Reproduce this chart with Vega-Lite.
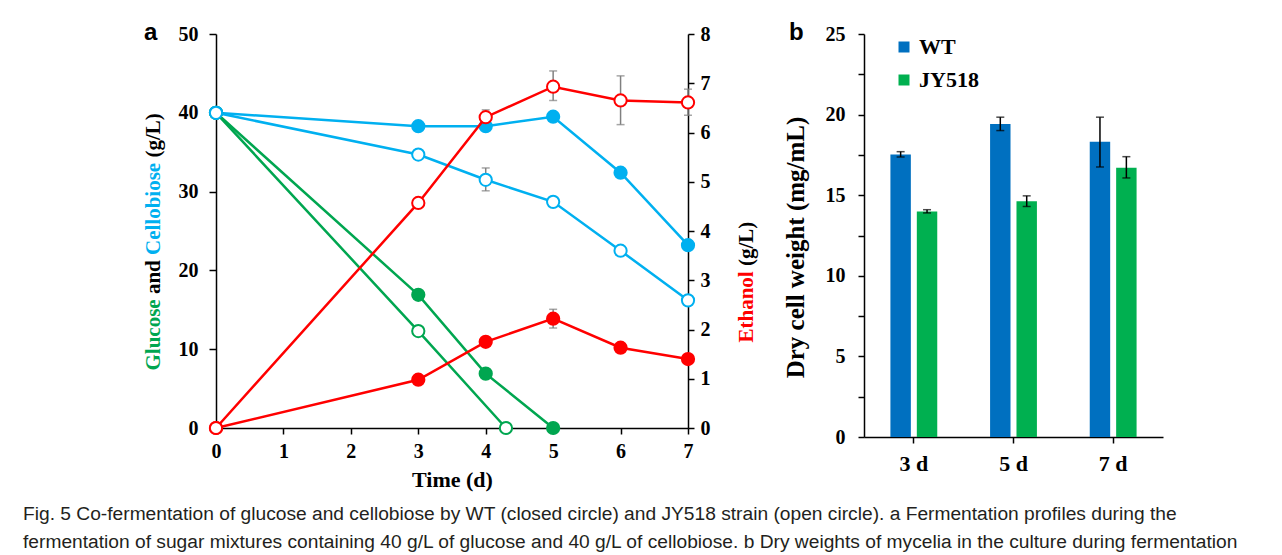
{
  "$schema": "https://vega.github.io/schema/vega-lite/v6.json",
  "padding": {"left": 22, "top": 21, "right": 5, "bottom": 5},
  "background": "white",
  "spacing": 27,
  "resolve": {"scale": {"color": "independent"}, "legend": {"color": "independent"}},
  "title": {
    "text": [
      "Fig. 5  Co-fermentation of glucose and cellobiose by WT (closed circle) and JY518 strain (open circle). a Fermentation profiles during the",
      "fermentation of sugar mixtures containing 40 g/L of glucose and 40 g/L of cellobiose. b Dry weights of mycelia in the culture during fermentation"
    ],
    "orient": "bottom", "anchor": "start", "frame": "bounds", "dx": -119, "offset": 15,
    "font": "Liberation Sans", "fontSize": 19.2, "fontWeight": "normal", "lineHeight": 28, "color": "#231f20"
  },
  "config": {
    "view": {"stroke": null},
    "font": "Liberation Serif",
    "axis": {
      "labelFont": "Liberation Serif", "labelFontWeight": "bold", "labelFontSize": 20, "labelColor": "black", "labelFlush": false, "labelOverlap": false,
      "titleFont": "Liberation Serif", "titleFontWeight": "bold", "titleFontSize": 21, "titleColor": "black",
      "domainColor": "black", "tickColor": "black", "domainWidth": 1.5, "tickWidth": 1.5, "grid": false, "tickSize": 6
    }
  },
  "hconcat": [
    {
      "width": 472, "height": 394,
      "title": {"text": "a", "anchor": "start", "frame": "bounds", "offset": -40, "dx": 2, "font": "Liberation Sans", "fontSize": 24, "fontWeight": "bold", "baseline": "alphabetic", "color": "black"},
      "data": {"values": [
        {"sub": "Glucose", "series": "Glucose WT", "t": 0, "v": 40},
        {"sub": "Glucose", "series": "Glucose WT", "t": 3, "v": 16.9},
        {"sub": "Glucose", "series": "Glucose WT", "t": 4, "v": 6.9},
        {"sub": "Glucose", "series": "Glucose WT", "t": 5, "v": 0},
        {"sub": "Glucose", "series": "Glucose JY518", "t": 0, "v": 40},
        {"sub": "Glucose", "series": "Glucose JY518", "t": 3, "v": 12.3},
        {"sub": "Glucose", "series": "Glucose JY518", "t": 4.3, "v": 0},
        {"sub": "Cellobiose", "series": "Cellobiose WT", "t": 0, "v": 40},
        {"sub": "Cellobiose", "series": "Cellobiose WT", "t": 3, "v": 38.3},
        {"sub": "Cellobiose", "series": "Cellobiose WT", "t": 4, "v": 38.3},
        {"sub": "Cellobiose", "series": "Cellobiose WT", "t": 5, "v": 39.5},
        {"sub": "Cellobiose", "series": "Cellobiose WT", "t": 6, "v": 32.4},
        {"sub": "Cellobiose", "series": "Cellobiose WT", "t": 7, "v": 23.2},
        {"sub": "Cellobiose", "series": "Cellobiose JY518", "t": 0, "v": 40},
        {"sub": "Cellobiose", "series": "Cellobiose JY518", "t": 3, "v": 34.7},
        {"sub": "Cellobiose", "series": "Cellobiose JY518", "t": 4, "v": 31.5, "lo": 30.1, "hi": 33.0},
        {"sub": "Cellobiose", "series": "Cellobiose JY518", "t": 5, "v": 28.7},
        {"sub": "Cellobiose", "series": "Cellobiose JY518", "t": 6, "v": 22.5},
        {"sub": "Cellobiose", "series": "Cellobiose JY518", "t": 7, "v": 16.2},
        {"sub": "Ethanol", "series": "Ethanol WT", "t": 0, "v": 0},
        {"sub": "Ethanol", "series": "Ethanol WT", "t": 3, "v": 0.98},
        {"sub": "Ethanol", "series": "Ethanol WT", "t": 4, "v": 1.75},
        {"sub": "Ethanol", "series": "Ethanol WT", "t": 5, "v": 2.22, "lo": 2.03, "hi": 2.41},
        {"sub": "Ethanol", "series": "Ethanol WT", "t": 6, "v": 1.63},
        {"sub": "Ethanol", "series": "Ethanol WT", "t": 7, "v": 1.4},
        {"sub": "Ethanol", "series": "Ethanol JY518", "t": 0, "v": 0},
        {"sub": "Ethanol", "series": "Ethanol JY518", "t": 3, "v": 4.57},
        {"sub": "Ethanol", "series": "Ethanol JY518", "t": 4, "v": 6.31, "lo": 6.24, "hi": 6.46},
        {"sub": "Ethanol", "series": "Ethanol JY518", "t": 5, "v": 6.93, "lo": 6.65, "hi": 7.25},
        {"sub": "Ethanol", "series": "Ethanol JY518", "t": 6, "v": 6.65, "lo": 6.16, "hi": 7.15},
        {"sub": "Ethanol", "series": "Ethanol JY518", "t": 7, "v": 6.61, "lo": 6.35, "hi": 6.88}
      ]},
      "layer": [
        {
          "transform": [{"filter": "datum.sub != 'Ethanol'"}],
          "layer": [
            {
              "transform": [{"filter": "isValid(datum.lo)"}],
              "mark": {"type": "errorbar", "ticks": true, "size": 8, "thickness": 1.5, "color": "#808080"},
              "encoding": {
                "x": {"field": "t", "type": "quantitative", "title": "Time (d)"},
                "y": {"field": "lo", "type": "quantitative", "title": "Glucose", "scale": {"domain": [0, 50], "nice": false}},
                "y2": {"field": "hi"}
              }
            },
            {
              "mark": {"type": "line", "strokeWidth": 2.5},
              "encoding": {
                "x": {"field": "t", "type": "quantitative", "title": "Time (d)", "scale": {"domain": [0, 7], "nice": false},
                  "axis": {"values": [0,0.5,1,1.5,2,2.5,3,3.5,4,4.5,5,5.5,6,6.5,7], "labelExpr": "datum.value % 1 === 0 ? '' + datum.value : ''",
                    "labelPadding": 7, "titleFontSize": 22, "titlePadding": 8}},
                "y": {"field": "v", "type": "quantitative", "title": "Glucose", "scale": {"domain": [0, 50], "nice": false},
                  "axis": {"orient": "left", "values": [0,5,10,15,20,25,30,35,40,45,50], "labelExpr": "datum.value % 10 === 0 ? '' + datum.value : ''",
                    "tickSize": 7, "labelPadding": 11, "titleColor": "#00a650",
                    "titleX": -63, "titleY": 336, "titleAlign": "left", "titleAngle": 270, "titleBaseline": "middle"}},
                "detail": {"field": "series"},
                "stroke": {"field": "sub", "type": "nominal", "scale": {"domain": ["Glucose", "Cellobiose", "Ethanol"], "range": ["#00a650", "#00b0f0", "#ff0000"]}, "legend": null}
              }
            },
            {
              "mark": {"type": "point", "filled": true, "size": 150, "strokeWidth": 2, "opacity": 1},
              "encoding": {
                "x": {"field": "t", "type": "quantitative", "title": "Time (d)"},
                "y": {"field": "v", "type": "quantitative", "title": "Glucose"},
                "stroke": {"field": "sub", "type": "nominal", "scale": {"domain": ["Glucose", "Cellobiose", "Ethanol"], "range": ["#00a650", "#00b0f0", "#ff0000"]}, "legend": null},
                "fill": {"field": "series", "type": "nominal", "scale": {"domain": ["Glucose WT", "Glucose JY518", "Cellobiose WT", "Cellobiose JY518", "Ethanol WT", "Ethanol JY518"], "range": ["#00a650", "white", "#00b0f0", "white", "#ff0000", "white"]}, "legend": null}
              }
            }
          ]
        },
        {
          "transform": [{"filter": "datum.sub == 'Glucose'"}],
          "mark": {"type": "point", "opacity": 0},
          "encoding": {
            "x": {"field": "t", "type": "quantitative", "title": "Time (d)"},
            "y": {"field": "v", "type": "quantitative", "scale": {"domain": [0, 50], "nice": false},
              "axis": {"orient": "left", "domain": false, "ticks": false, "labels": false, "title": "and", "titleColor": "black",
                "titleX": -63, "titleY": 259.6, "titleAlign": "left", "titleAngle": 270, "titleBaseline": "middle"}}
          }
        },
        {
          "transform": [{"filter": "datum.sub == 'Glucose'"}],
          "mark": {"type": "point", "opacity": 0},
          "encoding": {
            "x": {"field": "t", "type": "quantitative", "title": "Time (d)"},
            "y": {"field": "v", "type": "quantitative", "scale": {"domain": [0, 50], "nice": false},
              "axis": {"orient": "left", "domain": false, "ticks": false, "labels": false, "title": "Cellobiose", "titleColor": "#00b0f0",
                "titleX": -63, "titleY": 220.5, "titleAlign": "left", "titleAngle": 270, "titleBaseline": "middle"}}
          }
        },
        {
          "transform": [{"filter": "datum.sub == 'Glucose'"}],
          "mark": {"type": "point", "opacity": 0},
          "encoding": {
            "x": {"field": "t", "type": "quantitative", "title": "Time (d)"},
            "y": {"field": "v", "type": "quantitative", "scale": {"domain": [0, 50], "nice": false},
              "axis": {"orient": "left", "domain": false, "ticks": false, "labels": false, "title": "(g/L)", "titleColor": "black",
                "titleX": -63, "titleY": 123.1, "titleAlign": "left", "titleAngle": 270, "titleBaseline": "middle"}}
          }
        },
        {
          "transform": [{"filter": "datum.sub == 'Ethanol'"}],
          "layer": [
            {
              "transform": [{"filter": "isValid(datum.lo)"}],
              "mark": {"type": "errorbar", "ticks": true, "size": 8, "thickness": 1.5, "color": "#808080"},
              "encoding": {
                "x": {"field": "t", "type": "quantitative", "title": "Time (d)"},
                "y": {"field": "lo", "type": "quantitative", "title": "Ethanol", "scale": {"domain": [0, 8], "nice": false}},
                "y2": {"field": "hi"}
              }
            },
            {
              "mark": {"type": "line", "strokeWidth": 2.5},
              "encoding": {
                "x": {"field": "t", "type": "quantitative", "title": "Time (d)"},
                "y": {"field": "v", "type": "quantitative", "title": "Ethanol", "scale": {"domain": [0, 8], "nice": false},
                  "axis": {"orient": "right", "values": [0,0.5,1,1.5,2,2.5,3,3.5,4,4.5,5,5.5,6,6.5,7,7.5,8], "labelExpr": "datum.value % 1 === 0 ? '' + datum.value : ''",
                    "tickSize": 6, "labelPadding": 6, "titleColor": "#ff0000",
                    "titleX": 58, "titleY": 308, "titleAlign": "left", "titleAngle": 270, "titleBaseline": "middle"}},
                "detail": {"field": "series"},
                "stroke": {"field": "sub", "type": "nominal", "scale": {"domain": ["Glucose", "Cellobiose", "Ethanol"], "range": ["#00a650", "#00b0f0", "#ff0000"]}, "legend": null}
              }
            },
            {
              "mark": {"type": "point", "filled": true, "size": 150, "strokeWidth": 2, "opacity": 1},
              "encoding": {
                "x": {"field": "t", "type": "quantitative", "title": "Time (d)"},
                "y": {"field": "v", "type": "quantitative", "title": "Ethanol"},
                "stroke": {"field": "sub", "type": "nominal", "scale": {"domain": ["Glucose", "Cellobiose", "Ethanol"], "range": ["#00a650", "#00b0f0", "#ff0000"]}, "legend": null},
                "fill": {"field": "series", "type": "nominal", "scale": {"domain": ["Glucose WT", "Glucose JY518", "Cellobiose WT", "Cellobiose JY518", "Ethanol WT", "Ethanol JY518"], "range": ["#00a650", "white", "#00b0f0", "white", "#ff0000", "white"]}, "legend": null}
              }
            }
          ]
        },
        {
          "transform": [{"filter": "datum.sub == 'Ethanol'"}],
          "mark": {"type": "point", "opacity": 0},
          "encoding": {
            "x": {"field": "t", "type": "quantitative", "title": "Time (d)"},
            "y": {"field": "v", "type": "quantitative", "scale": {"domain": [0, 8], "nice": false},
              "axis": {"orient": "right", "domain": false, "ticks": false, "labels": false, "title": "(g/L)", "titleColor": "black",
                "titleX": 58, "titleY": 231.6, "titleAlign": "left", "titleAngle": 270, "titleBaseline": "middle"}}
          }
        }
      ],
      "resolve": {"scale": {"y": "independent"}}
    },
    {
      "width": 299, "height": 403,
      "title": {"text": "b", "anchor": "start", "frame": "bounds", "offset": -40, "dx": 6, "font": "Liberation Sans", "fontSize": 24, "fontWeight": "bold", "baseline": "alphabetic", "color": "black"},
      "data": {"values": [
        {"day": "3 d", "strain": "WT", "w": 17.53, "lo": 17.37, "hi": 17.7},
        {"day": "3 d", "strain": "JY518", "w": 13.99, "lo": 13.9, "hi": 14.1},
        {"day": "5 d", "strain": "WT", "w": 19.42, "lo": 19.01, "hi": 19.84},
        {"day": "5 d", "strain": "JY518", "w": 14.63, "lo": 14.3, "hi": 14.96},
        {"day": "7 d", "strain": "WT", "w": 18.31, "lo": 16.75, "hi": 19.84},
        {"day": "7 d", "strain": "JY518", "w": 16.71, "lo": 16.07, "hi": 17.39}
      ]},
      "encoding": {
        "x": {"field": "day", "type": "nominal", "sort": ["3 d", "5 d", "7 d"], "title": null, "scale": {"paddingInner": 0.53, "paddingOuter": 0.265},
          "axis": {"labelAngle": 0, "labelFontSize": 22, "labelPadding": 10, "tickSize": 6}},
        "xOffset": {"field": "strain", "type": "nominal", "sort": ["WT", "JY518"], "scale": {"paddingInner": 0.226, "paddingOuter": 0}}
      },
      "layer": [
        {
          "mark": {"type": "bar"},
          "encoding": {
            "y": {"field": "w", "type": "quantitative", "title": "Dry cell weight (mg/mL)", "scale": {"domain": [0, 25], "nice": false},
              "axis": {"values": [0,2.5,5,7.5,10,12.5,15,17.5,20,22.5,25], "labelExpr": "datum.value % 5 === 0 ? '' + datum.value : ''",
                "tickSize": 6, "labelPadding": 13, "titleFontSize": 25,
                "titleX": -69, "titleY": 213, "titleAlign": "center", "titleAngle": 270, "titleBaseline": "middle"}},
            "color": {"field": "strain", "type": "nominal", "sort": ["WT", "JY518"], "scale": {"domain": ["WT", "JY518"], "range": ["#0070c0", "#00b050"]},
              "legend": {"orient": "none", "legendX": 29, "legendY": 2, "title": null, "symbolType": "square", "symbolSize": 121, "symbolStrokeWidth": 0,
                "labelFont": "Liberation Serif", "labelFontWeight": "bold", "labelFontSize": 22, "labelColor": "black", "rowPadding": 11, "labelOffset": 4}}
          }
        },
        {
          "mark": {"type": "errorbar", "ticks": true, "size": 8, "thickness": 1.5, "color": "black"},
          "encoding": {
            "y": {"field": "lo", "type": "quantitative", "title": "Dry cell weight (mg/mL)"},
            "y2": {"field": "hi"}
          }
        }
      ]
    }
  ]
}
